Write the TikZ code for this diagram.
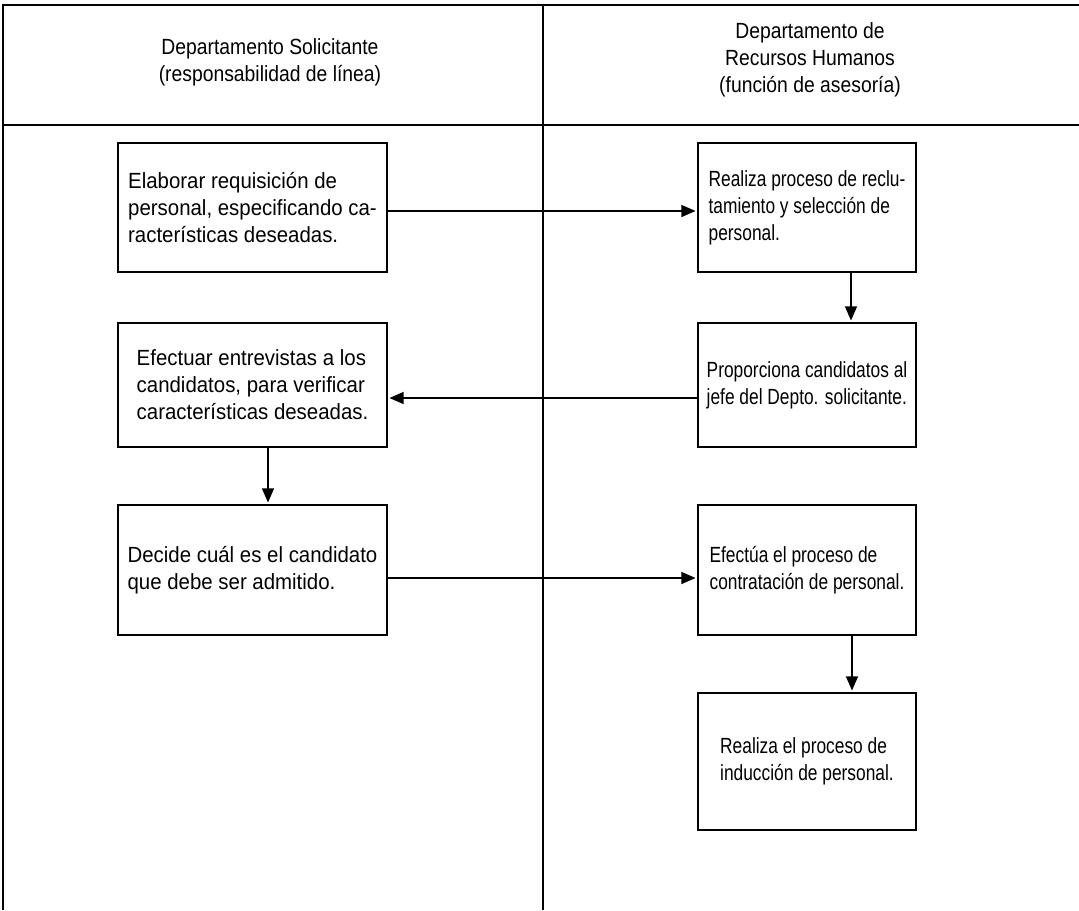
\documentclass[tikz,border=0pt]{standalone}
\usepackage{fontspec}
\setmainfont[FakeStretch=0.88]{Liberation Sans}
\newfontfamily\leftfont[FakeStretch=0.93]{Liberation Sans}
\newfontfamily\rightfont[FakeStretch=0.79]{Liberation Sans}
\usepackage{tikz}
\usetikzlibrary{arrows.meta}
\usetikzlibrary{positioning}

\begin{document}
\begin{tikzpicture}[
x=0.02cm, y=-0.02cm,
FrameLines/.style={draw=black,line width=0.7pt},
LeftBoxes/.style={draw=black,line width=0.9pt,align=left,minimum width=5.38cm,inner sep=0pt,
  font={\leftfont\fontsize{12.5pt}{15.4pt}\selectfont}},
RightBoxes/.style={draw=black,line width=0.9pt,align=left,minimum width=4.36cm,inner sep=0pt,
  font={\rightfont\fontsize{12.5pt}{15.4pt}\selectfont}},
FlowArrows/.style={draw=black,line width=0.6pt,-{Triangle[length=2.8mm, width=2.4mm]},shorten >=1pt},
every node/.style={font=\fontsize{12.5pt}{15.4pt}\selectfont}
]
\useasboundingbox (0,0) rectangle (1079,910);

% marco y columnas
\coordinate (TL) at (3,5);
\coordinate (TR) at (1079,5);
\coordinate (BL) at (3,910);
\coordinate (HL) at (3,125);
\coordinate (HR) at (1079,125);
\coordinate (DT) at (543,5);
\coordinate (DB) at (543,910);

\draw[FrameLines] (BL)--(TL)--(TR);
\draw[FrameLines] (HL)--(HR);
\draw[FrameLines] (DT)--(DB);

\node[align=center] (colsol) at (270,62) {Departamento Solicitante\\(responsabilidad de línea)};
\node[align=center] (colrh) at (810,60) {Departamento de\\Recursos Humanos\\(función de asesoría)};

% pasos
\node[LeftBoxes, minimum height=2.58cm] (elab) at (252.5,207.5)
{Elaborar requisición de\\personal, especificando ca-\\racterísticas deseadas.};
\node[RightBoxes, minimum height=2.58cm] (recl) at (807,207.5)
{Realiza proceso de reclu-\\tamiento y selección de\\personal.};

\node[RightBoxes, minimum height=2.48cm] (prop) at (807,385)
{Proporciona candidatos al\\jefe del Depto. solicitante.};
\node[LeftBoxes, minimum height=2.48cm] (entrev) at (252.5,385)
{Efectuar entrevistas a los\\candidatos, para verificar\\características deseadas.};

\node[LeftBoxes, minimum height=2.6cm] (decide) at (252.5,570)
{Decide cuál es el candidato\\que debe ser admitido.};
\node[RightBoxes, minimum height=2.6cm] (contrat) at (807,570)
{Efectúa el proceso de\\contratación de personal.};

\node[RightBoxes, minimum height=2.74cm] (induc) at (807,761.5)
{Realiza el proceso de\\inducción de personal.};

% flechas
\draw[FlowArrows] ([yshift=-0.07cm]elab.east) -- ([yshift=-0.07cm]recl.west);
\draw[FlowArrows] ([xshift=0.88cm]recl.south) -- ([xshift=0.88cm]recl.south |- prop.north);
\draw[FlowArrows] ([yshift=-0.26cm]prop.west) -- ([yshift=-0.26cm]entrev.east);
\draw[FlowArrows] ([xshift=0.31cm]entrev.south) -- ([xshift=0.31cm]entrev.south |- decide.north);
\draw[FlowArrows] ([yshift=-0.16cm]decide.east) -- ([yshift=-0.16cm]contrat.west);
\draw[FlowArrows] ([xshift=0.9cm]contrat.south) -- ([xshift=0.9cm]contrat.south |- induc.north);

\end{tikzpicture}
\end{document}
